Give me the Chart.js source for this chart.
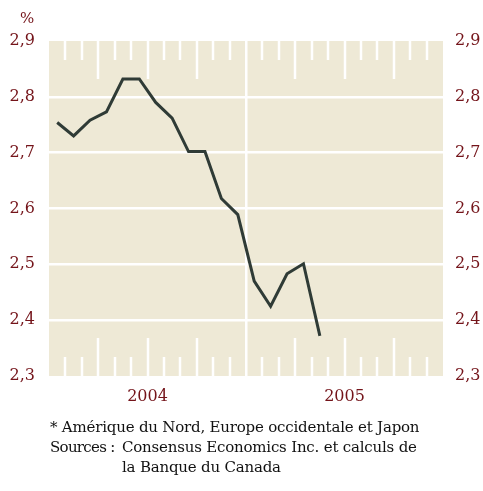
<!DOCTYPE html>
<html>
<head>
<meta charset="utf-8">
<script src="https://cdn.jsdelivr.net/npm/chart.js@4/dist/chart.umd.min.js"></script>
<style>
  html, body { margin: 0; padding: 0; background: #fff; }
  #wrap { position: relative; width: 483px; height: 491px; }
  #pct { position: absolute; left: 20px; top: 9px; font: 15px 'DejaVu Serif', serif; color: #74141a; }
  #note { position: absolute; left: 50px; top: 417px; font: 15px 'DejaVu Serif', serif; color: #111; line-height: 20px; letter-spacing: -0.2px; }
  #note .row { display: flex; }
  #note .lab { width: 72px; letter-spacing: -0.7px; }
</style>
</head>
<body>
<div id="wrap">
  <canvas id="chart" width="483" height="491"></canvas>
  <div id="pct">%</div>
  <div id="note">
    <div>* Amérique du Nord, Europe occidentale et Japon</div>
    <div class="row"><span class="lab">Sources :</span><span>Consensus Economics Inc. et calculs de<br>la Banque du Canada</span></div>
  </div>
</div>
<script>
// ===== データ =====
const months = ['2004-01','2004-02','2004-03','2004-04','2004-05','2004-06','2004-07','2004-08','2004-09','2004-10','2004-11','2004-12','2005-01','2005-02','2005-03','2005-04','2005-05'];
const values = [2.754, 2.730, 2.758, 2.773, 2.832, 2.832, 2.790, 2.762, 2.702, 2.702, 2.618, 2.589, 2.470, 2.425, 2.483, 2.501, 2.372];
const years = ['2004', '2005'];
const yTicks = [2.3, 2.4, 2.5, 2.6, 2.7, 2.8, 2.9];

const RED = '#74141a';
const BG = '#eee9d6';
const tickFont = { family: "'DejaVu Serif', serif", size: 16 };

// 月の区切り目盛り（白い短線）
const monthTicks = {
  id: 'monthTicks',
  beforeDraw(chart) {
    const { ctx, chartArea: a } = chart;
    ctx.save();
    ctx.fillStyle = BG;
    ctx.fillRect(a.left, a.top, a.right - a.left, a.bottom - a.top);
    ctx.restore();
  },
  beforeDatasetsDraw(chart) {
    const { ctx, chartArea: a, scales } = chart;
    const x = scales.x;
    ctx.save();
    ctx.strokeStyle = '#ffffff';
    ctx.lineWidth = 2.5;
    for (let m = 1; m < years.length * 12; m++) {
      if (m % 12 === 0) continue;
      const len = m % 3 === 0 ? 38 : 19;
      const px = Math.round(x.getPixelForValue(m));
      ctx.beginPath();
      ctx.moveTo(px, a.top); ctx.lineTo(px, a.top + len);
      ctx.moveTo(px, a.bottom); ctx.lineTo(px, a.bottom - len);
      ctx.stroke();
    }
    ctx.restore();
  }
};

const fmt = v => v.toFixed(1).replace('.', ',');

new Chart(document.getElementById('chart'), {
  type: 'line',
  data: {
    datasets: [{
      data: values.map((v, i) => ({ x: i + 0.5, y: v })),
      borderColor: '#2f3b36',
      borderWidth: 3,
      pointRadius: 0,
      tension: 0,
      fill: false
    }]
  },
  options: {
    responsive: false,
    animation: false,
    layout: { padding: { top: 41, bottom: 85 } },
    plugins: { legend: { display: false }, tooltip: { enabled: false } },
    scales: {
      x: {
        type: 'linear',
        min: 0, max: years.length * 12,
        afterBuildTicks: s => { s.ticks = [0, 6, 12, 18, 24].map(v => ({ value: v })); },
        afterFit: s => { s.height = 30; },
        ticks: {
          autoSkip: false, maxRotation: 0,
          padding: 11,
          color: RED, font: tickFont,
          callback: v => (v % 12 === 6 ? years[(v - 6) / 12] : '')
        },
        grid: {
          drawTicks: false,
          lineWidth: 2.5,
          color: c => (c.tick && c.tick.value === 12 ? '#ffffff' : 'rgba(0,0,0,0)')
        },
        border: { display: false }
      },
      y: {
        position: 'left',
        min: 2.3, max: 2.9,
        afterBuildTicks: s => { s.ticks = yTicks.map(v => ({ value: v })); },
        afterFit: s => { s.width = 49; },
        ticks: { padding: 14, color: RED, font: tickFont, callback: fmt },
        grid: {
          drawTicks: false,
          lineWidth: 2.5,
          color: c => (c.tick && c.tick.value > 2.35 && c.tick.value < 2.85 ? '#ffffff' : 'rgba(0,0,0,0)')
        },
        border: { display: false }
      },
      y1: {
        position: 'right',
        min: 2.3, max: 2.9,
        afterBuildTicks: s => { s.ticks = yTicks.map(v => ({ value: v })); },
        afterFit: s => { s.width = 40; },
        ticks: { padding: 12, color: RED, font: tickFont, callback: fmt },
        grid: { display: false, drawTicks: false },
        border: { display: false }
      }
    }
  },
  plugins: [monthTicks]
});
</script>
</body>
</html>
